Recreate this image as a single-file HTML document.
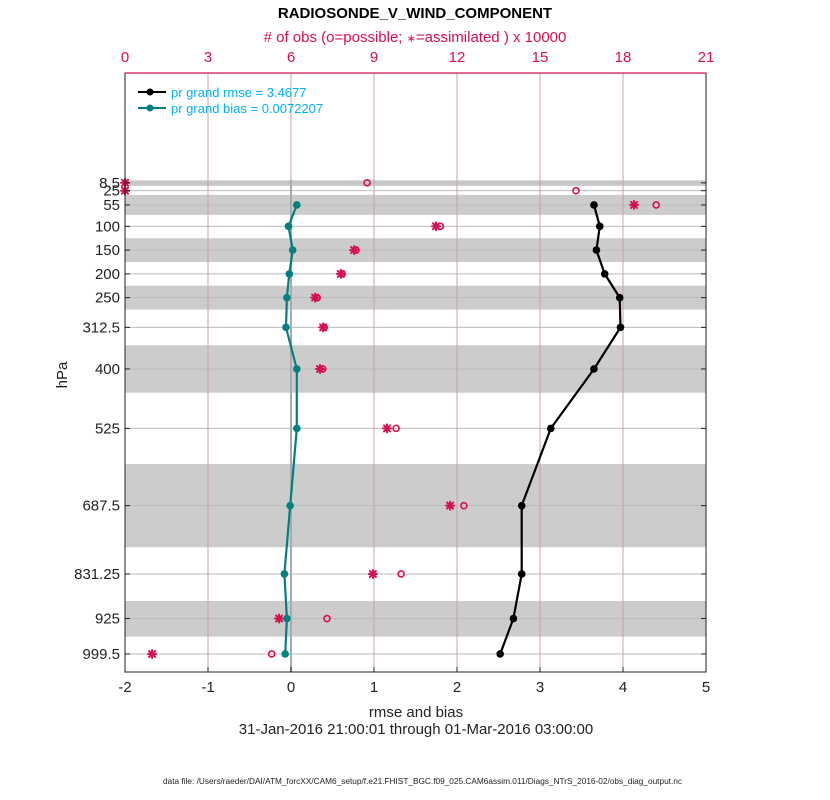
<!DOCTYPE html>
<html><head><meta charset="utf-8">
<style>
html,body{margin:0;padding:0;background:#fff;}
svg{display:block;font-family:"Liberation Sans",Helvetica,Arial,sans-serif;}
</style></head>
<body>
<svg id="chart" width="830" height="800" viewBox="0 0 830 800" xmlns="http://www.w3.org/2000/svg">
<rect width="830" height="800" fill="#fff"/>
<text x="415" y="18" text-anchor="middle" font-size="15" font-weight="bold" fill="#000">RADIOSONDE_V_WIND_COMPONENT</text>
<text x="415" y="42" text-anchor="middle" font-size="15" fill="#d6104f"># of obs (o=possible; <tspan font-size="11">∗</tspan>=assimilated ) x 10000</text>
<g id="bands"></g>
<g id="grid"></g>
<g id="marks"></g>
<g id="axes"></g>
<text transform="translate(67,375) rotate(-90)" text-anchor="middle" font-size="15" fill="#222">hPa</text>
<text x="416" y="717" text-anchor="middle" font-size="15" fill="#222">rmse and bias</text>
<text x="416" y="734" text-anchor="middle" font-size="15" fill="#222">31-Jan-2016 21:00:01 through 01-Mar-2016 03:00:00</text>
<text x="163" y="784" font-size="8" textLength="519" lengthAdjust="spacingAndGlyphs" fill="#222">data file: /Users/raeder/DAI/ATM_forcXX/CAM6_setup/f.e21.FHIST_BGC.f09_025.CAM6assim.011/Diags_NTrS_2016-02/obs_diag_output.nc</text>
<g>
  <line x1="138" y1="92" x2="166" y2="92" stroke="#000" stroke-width="2"/>
  <circle cx="150" cy="92" r="3.5" fill="#000"/>
  <text x="171" y="97" font-size="13" fill="#00b0f0">pr grand rmse = 3.4677</text>
  <line x1="138" y1="108" x2="166" y2="108" stroke="#008080" stroke-width="2"/>
  <circle cx="150" cy="108" r="3.5" fill="#008080"/>
  <text x="171" y="113" font-size="13" fill="#00b0f0">pr grand bias = 0.0072207</text>
</g>
</svg>
<script>
const levels = [8.5, 25, 55, 100, 150, 200, 250, 312.5, 400, 525, 687.5, 831.25, 925, 999.5];
const levelLabels = ["8.5","25","55","100","150","200","250","312.5","400","525","687.5","831.25","925","999.5"];
const rmseLevels = [55, 100, 150, 200, 250, 312.5, 400, 525, 687.5, 831.25, 925, 999.5];
const rmseValues = [3.65, 3.72, 3.68, 3.78, 3.96, 3.97, 3.65, 3.13, 2.78, 2.78, 2.68, 2.52];
const biasValues = [0.07, -0.03, 0.02, -0.02, -0.05, -0.06, 0.07, 0.07, -0.01, -0.08, -0.05, -0.07];
const obsPossible = [8.75, 16.3, 19.2, 11.4, 8.35, 7.85, 6.95, 7.2, 7.15, 9.8, 12.25, 9.98, 7.3, 5.3];
const obsAssim = [0, 0, 18.4, 11.24, 8.28, 7.8, 6.87, 7.16, 7.05, 9.47, 11.75, 8.96, 5.57, 0.98];
const bandEdges = [[3,15],[34,76],[125,175],[225,275],[350,450],[600,775],[888,963]];
const xTicks = [-2,-1,0,1,2,3,4,5];
const obsTicks = [0,3,6,9,12,15,18,21];

const L=125, R=706, T=73, B=672;
const X = v => L + (v + 2) / 7 * (R - L);
const XO = o => L + o / 21 * (R - L);
const Y = p => 178.8 + p * 0.4754;
const NS = "http://www.w3.org/2000/svg";
function mk(parent, tag, attrs){const e=document.createElementNS(NS,tag);for(const k in attrs)e.setAttribute(k,attrs[k]);(typeof parent==="string"?document.getElementById(parent):parent).appendChild(e);return e;}

bandEdges.forEach(b=>{
  const r=mk("bands","rect",{x:L,y:Y(b[0]),width:R-L,height:Y(b[1])-Y(b[0]),fill:"#cccccc"});
  
  
});
levels.forEach(p=>{
  const l=mk("grid","line",{x1:L,x2:R,y1:Y(p),y2:Y(p),stroke:"#bbbbbb","stroke-width":1});
  
  
});
obsTicks.forEach(o=>{
  if(o===0||o===21) return;
  const l=mk("grid","line",{x1:XO(o),x2:XO(o),y1:T,y2:B,stroke:"#c8a0b0","stroke-width":1});
  
  
});
const z=mk("grid","line",{x1:X(0),x2:X(0),y1:Y(8.5)-3,y2:B,stroke:"#aaaaaa","stroke-width":2});



levels.forEach((p,i)=>{
  const c=mk("marks","circle",{cx:XO(obsPossible[i]),cy:Y(p),r:3,fill:"none",stroke:"#d6104f","stroke-width":1.6});
  
  
  const g=mk("marks","g",{transform:"translate("+XO(obsAssim[i]).toFixed(1)+","+Y(p).toFixed(1)+")",stroke:"#d6104f","stroke-width":2,"stroke-linecap":"round"});
  
  
  mk(g,"line",{x1:-4,y1:0,x2:4,y2:0});
  mk(g,"line",{x1:0,y1:-4,x2:0,y2:4});
  mk(g,"line",{x1:-3,y1:-3,x2:3,y2:3});
  mk(g,"line",{x1:-3,y1:3,x2:3,y2:-3});
});
function series(vals,color,name){
  const pts=rmseLevels.map((p,i)=>X(vals[i]).toFixed(1)+","+Y(p).toFixed(1)).join(" ");
  const pl=mk("marks","polyline",{points:pts,fill:"none",stroke:color,"stroke-width":2.2});
  
  
  rmseLevels.forEach((p,i)=>{
    const c=mk("marks","circle",{cx:X(vals[i]),cy:Y(p),r:3.8,fill:color});
    
    
  });
}
series(rmseValues,"#000","rmse");
series(biasValues,"#008080","bias");

const fr=mk("axes","rect",{x:L,y:T,width:R-L,height:B-T,fill:"none",stroke:"#222","stroke-width":1});


const tl=mk("axes","line",{x1:L,x2:R,y1:T,y2:T,stroke:"#d6104f","stroke-width":1.2});


xTicks.forEach(v=>{
  const t=mk("axes","text",{x:X(v),y:B+20,"text-anchor":"middle","font-size":15,fill:"#222"});
  t.textContent=String(v);
  
  
  mk("axes","line",{x1:X(v),x2:X(v),y1:B,y2:B-5,stroke:"#222"});
});
obsTicks.forEach(o=>{
  const t=mk("axes","text",{x:XO(o),y:T-11,"text-anchor":"middle","font-size":15,fill:"#d6104f"});
  t.textContent=String(o);
  
  
});
levels.forEach((p,i)=>{
  const t=mk("axes","text",{x:L-5,y:Y(p)+5,"text-anchor":"end","font-size":15,fill:"#222"});
  t.textContent=levelLabels[i];
  
  
  mk("axes","line",{x1:L,x2:L+5,y1:Y(p),y2:Y(p),stroke:"#222"});
  mk("axes","line",{x1:R,x2:R-5,y1:Y(p),y2:Y(p),stroke:"#222"});
});
</script>
</body></html>
